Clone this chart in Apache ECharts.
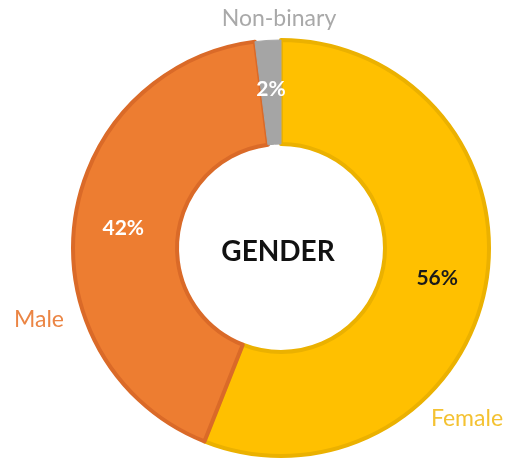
<!DOCTYPE html>
<html>
<head>
<meta charset="utf-8">
<script src="https://cdn.jsdelivr.net/npm/echarts@6/dist/echarts.min.js"></script>
<style>
html,body{margin:0;padding:0;background:#fff;}
#chart{width:509px;height:460px;}
</style>
</head>
<body>
<div id="chart"></div>
<script>
// Data
const categories = ['Female', 'Male', 'Non-binary'];
const shares = [56, 42, 2];
const percentLabels = ['56%', '42%', '2%'];
const centerTitle = 'GENDER';

// Styles
const fills = ['#FFC000', '#ED7D31', '#A5A5A5'];
const borders = ['#EBB100', '#DA6A28', '#A5A5A5'];
const borderWidths = [4, 4, 1];
const pctColors = ['#1a1a1a', '#ffffff', '#ffffff'];
const nameColors = ['#F4C232', '#EB8544', '#A9A9A9'];
// name label placement (pixel) on the canvas
const namePos = [[467, 419], [39, 320], [279, 19]];

const FONT = 'Lato';
const chart = echarts.init(document.getElementById('chart'), null, {renderer: 'canvas'});

const ringData = categories.map((c, i) => ({
  name: c, value: shares[i],
  itemStyle: {color: fills[i], borderColor: borders[i], borderWidth: borderWidths[i]},
  label: {color: pctColors[i]}
}));
const nameData = categories.map((c, i) => ({
  name: c, value: shares[i],
  label: {color: nameColors[i]}
}));

chart.setOption({
  animation: false,
  backgroundColor: '#ffffff',
  title: {
    text: centerTitle, left: 273, top: 247,
    textAlign: 'center', textVerticalAlign: 'middle',
    textStyle: {fontFamily: FONT, fontWeight: 'bold', fontSize: 28, color: '#111'}
  },
  series: [
    {
      type: 'pie', center: [281, 248], radius: [104, 208],
      startAngle: 90, clockwise: true, silent: true,
      data: ringData,
      label: {
        show: true, position: 'inside',
        formatter: p => percentLabels[p.dataIndex],
        fontFamily: FONT, fontWeight: 'bold', fontSize: 21
      },
      labelLine: {show: false}
    },
    {
      type: 'pie', center: [281, 248], radius: [104, 208],
      startAngle: 90, clockwise: true, silent: true,
      itemStyle: {color: 'rgba(0,0,0,0)', borderWidth: 0},
      data: nameData,
      label: {
        show: true, position: 'inside',
        formatter: '{b}', fontFamily: FONT, fontSize: 23
      },
      labelLine: {show: false},
      labelLayout: p => ({
        x: namePos[p.dataIndex][0], y: namePos[p.dataIndex][1],
        align: 'center', verticalAlign: 'middle'
      })
    }
  ]
});
</script>
</body>
</html>
